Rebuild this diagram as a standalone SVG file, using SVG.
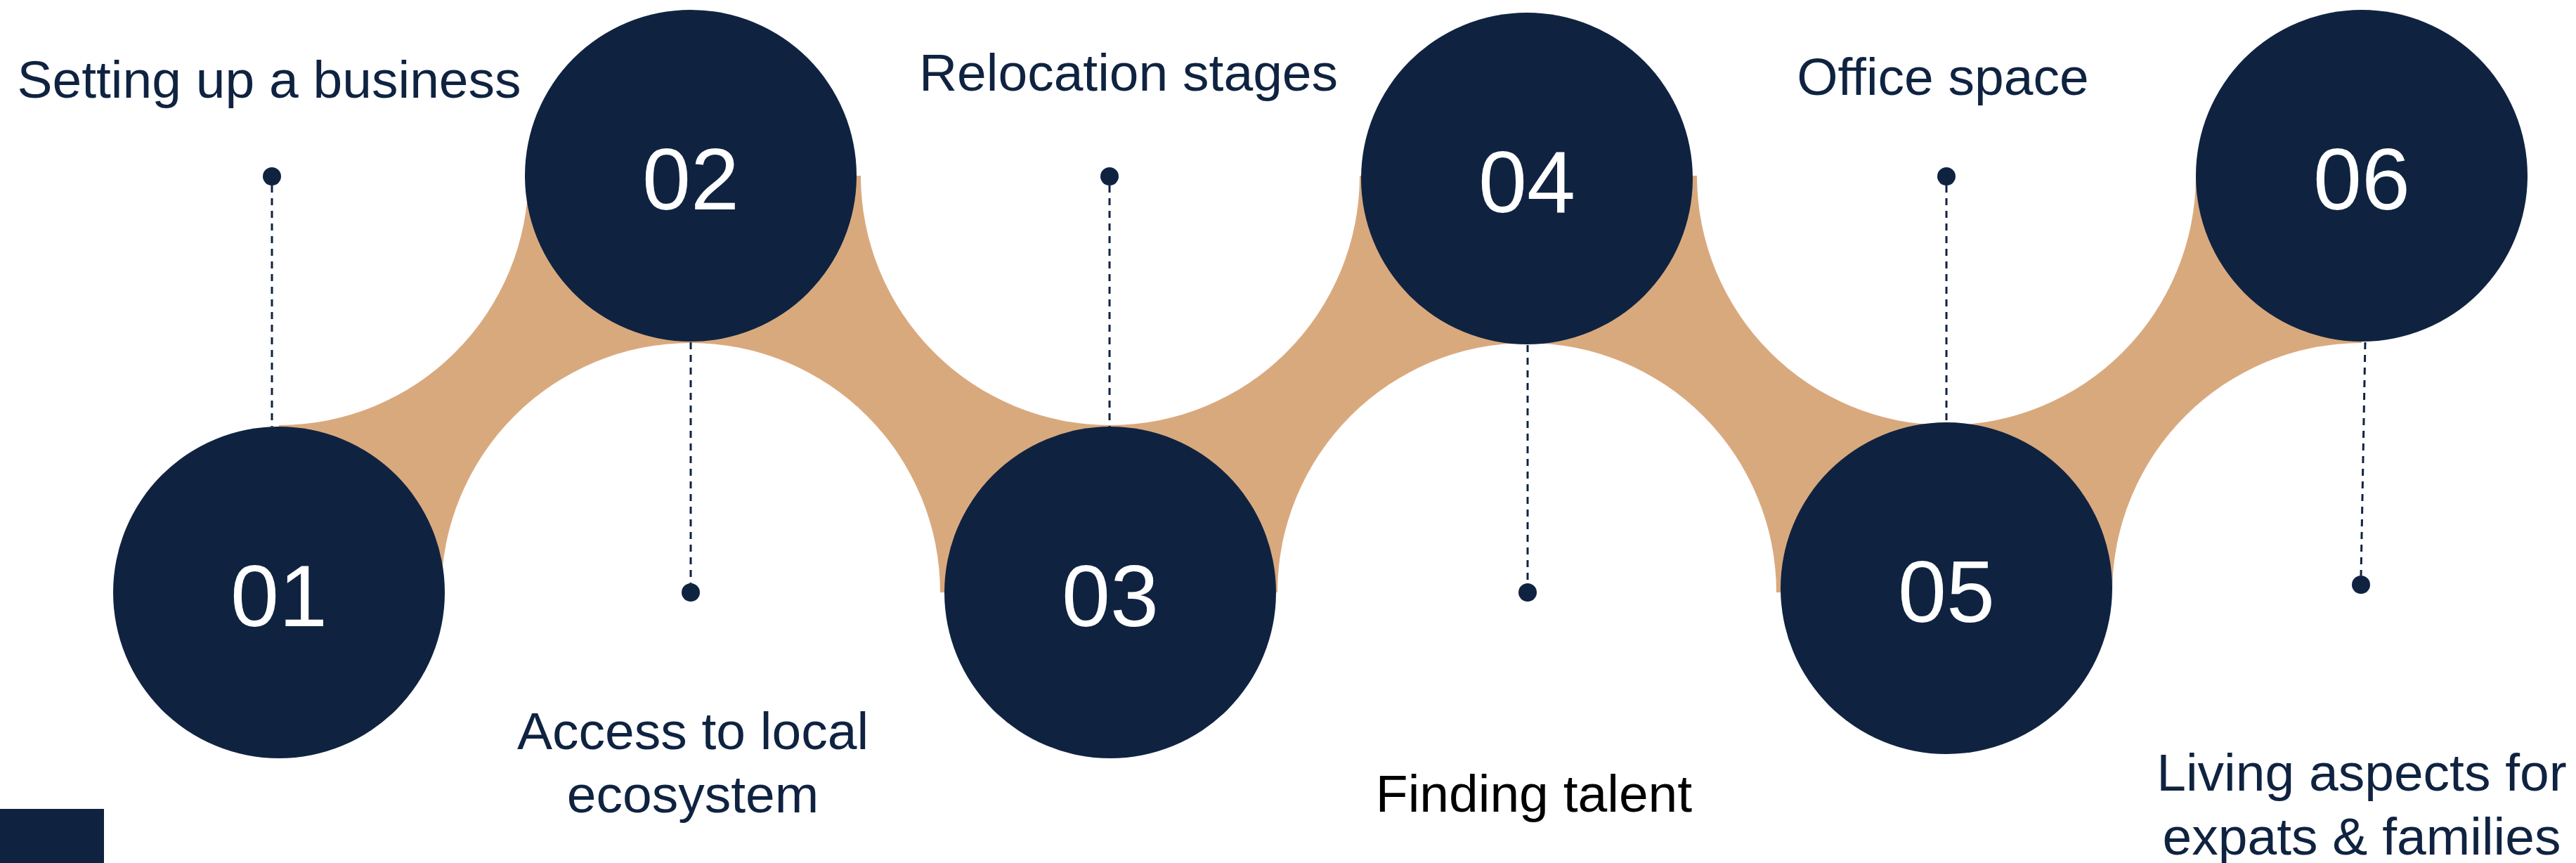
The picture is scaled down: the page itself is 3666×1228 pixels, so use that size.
<svg xmlns="http://www.w3.org/2000/svg" width="3666" height="1228" viewBox="0 0 3666 1228">
  <style>
    .navy { fill: #0F2341; }
    .tan { fill: #D9A97E; }
    .num { font-family: "Liberation Sans", Arial, sans-serif; font-size: 124px; fill: #FFFFFF; text-anchor: middle; }
    .lbl { font-family: "Liberation Sans", Arial, sans-serif; font-size: 75px; fill: #0F2341; text-anchor: middle; }
    .lbl-dark { fill: #000000; }
    .dash { stroke: #0F2341; stroke-width: 3; stroke-dasharray: 10 8; fill: none; }
    .dot { fill: #0F2341; }
  </style>
  <defs>
    <mask id="waveMask" maskUnits="userSpaceOnUse" x="0" y="0" width="3666" height="1228">
      <rect x="0" y="0" width="3666" height="1228" fill="#fff"/>
      <circle cx="397" cy="250" r="355" fill="#000"/>
      <circle cx="1580" cy="250" r="355" fill="#000"/>
      <circle cx="2770" cy="250" r="355" fill="#000"/>
      <circle cx="983" cy="843" r="355" fill="#000"/>
      <circle cx="2173" cy="843" r="355" fill="#000"/>
      <circle cx="3361" cy="843" r="355" fill="#000"/>
    </mask>
  </defs>
  <rect x="0" y="0" width="3666" height="1228" fill="#FFFFFF"/>

  <g id="wave">
    <rect class="tan" x="397" y="250" width="2964" height="593" mask="url(#waveMask)"/>
  </g>

  <g id="connectors">
    <line class="dash" x1="387" y1="264" x2="387" y2="607"/>
    <circle class="dot" cx="387" cy="251" r="13"/>
    <line class="dash" x1="983" y1="487" x2="983" y2="830"/>
    <circle class="dot" cx="983" cy="843" r="13"/>
    <line class="dash" x1="1579" y1="264" x2="1579" y2="607"/>
    <circle class="dot" cx="1579" cy="251" r="13"/>
    <line class="dash" x1="2174" y1="491" x2="2174" y2="830"/>
    <circle class="dot" cx="2174" cy="843" r="13"/>
    <line class="dash" x1="2770" y1="264" x2="2770" y2="601"/>
    <circle class="dot" cx="2770" cy="251" r="13"/>
    <line class="dash" x1="3366" y1="487" x2="3360" y2="819"/>
    <circle class="dot" cx="3360" cy="832" r="13"/>
  </g>

  <g id="node-01">
    <circle class="navy" cx="397" cy="843" r="236"/>
    <text class="num" x="397" y="891">01</text>
    <text class="lbl" x="383" y="139">Setting up a business</text>
  </g>
  <g id="node-02">
    <circle class="navy" cx="983" cy="250" r="236"/>
    <text class="num" x="983" y="298">02</text>
    <text class="lbl" x="986" y="1066">Access to local</text>
    <text class="lbl" x="986" y="1156">ecosystem</text>
  </g>
  <g id="node-03">
    <circle class="navy" cx="1580" cy="843" r="236"/>
    <text class="num" x="1580" y="891">03</text>
    <text class="lbl" x="1606" y="129">Relocation stages</text>
  </g>
  <g id="node-04">
    <circle class="navy" cx="2173" cy="254" r="236"/>
    <text class="num" x="2173" y="302">04</text>
    <text class="lbl lbl-dark" x="2183" y="1155">Finding talent</text>
  </g>
  <g id="node-05">
    <circle class="navy" cx="2770" cy="837" r="236"/>
    <text class="num" x="2770" y="885">05</text>
    <text class="lbl" x="2765" y="135">Office space</text>
  </g>
  <g id="node-06">
    <circle class="navy" cx="3361" cy="250" r="236"/>
    <text class="num" x="3361" y="298">06</text>
    <text class="lbl" x="3361" y="1125">Living aspects for</text>
    <text class="lbl" x="3361" y="1216">expats &amp; families</text>
  </g>

  <g id="corner-block">
    <rect class="navy" x="0" y="1151" width="148" height="77"/>
  </g>
</svg>
